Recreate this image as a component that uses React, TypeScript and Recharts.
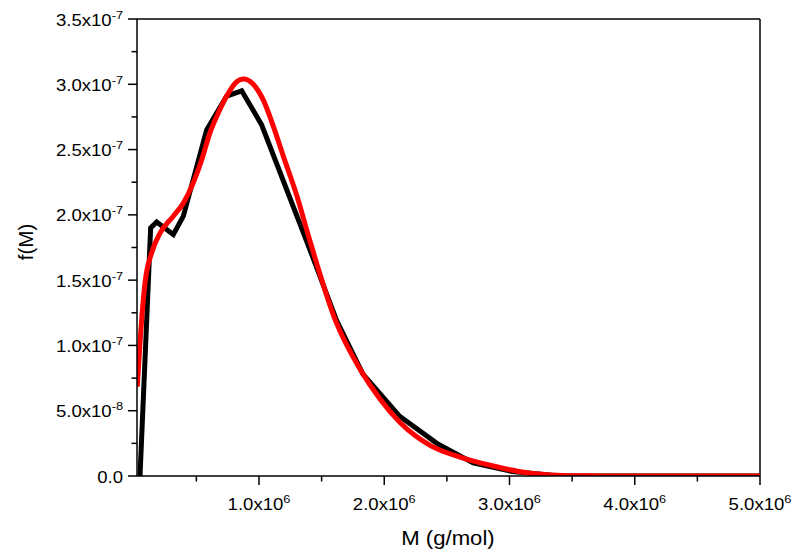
import React from "react";
import { LineChart, Line, XAxis, YAxis, ReferenceLine } from "recharts";

// M in units of 10^6 g/mol, f(M) in units of 10^-7
const blackM = [0.05, 0.135, 0.183, 0.316, 0.396, 0.582, 0.742, 0.862, 1.021, 1.4, 1.62, 1.83, 2.12, 2.42, 2.71, 3.02, 3.4, 5.0];
const blackF = [0, 1.9, 1.945, 1.85, 1.99, 2.65, 2.91, 2.95, 2.69, 1.75, 1.19, 0.78, 0.46, 0.25, 0.1, 0.035, 0, 0];

const redM = [0.028, 0.05, 0.09, 0.143, 0.21, 0.316, 0.396, 0.475, 0.542, 0.609, 0.675, 0.742, 0.822, 0.875, 0.954, 1.034, 1.114, 1.194, 1.301, 1.407, 1.607, 1.806, 1.966, 2.126, 2.366, 2.605, 2.845, 3.084, 3.324, 3.6, 4.0, 5.0];
const redF = [0.685, 1.02, 1.48, 1.71, 1.86, 1.99, 2.09, 2.245, 2.42, 2.63, 2.78, 2.91, 3.02, 3.04, 3.0, 2.88, 2.68, 2.45, 2.15, 1.8, 1.2, 0.82, 0.59, 0.41, 0.235, 0.145, 0.082, 0.033, 0.008, 0.001, 0, 0];

const xMajorTicks = [1, 2, 3, 4, 5];
const xMinorTicks = [0.5, 1.5, 2.5, 3.5, 4.5];
const xTickLabels = ["1.0", "2.0", "3.0", "4.0", "5.0"];
const xTickExp = "6";

const yMajorTicks = [0, 0.5, 1, 1.5, 2, 2.5, 3, 3.5];
const yMinorTicks = [0.25, 0.75, 1.25, 1.75, 2.25, 2.75, 3.25];
const yTickLabels = ["0.0", "5.0", "1.0", "1.5", "2.0", "2.5", "3.0", "3.5"];
const yTickExps = ["", "-8", "-7", "-7", "-7", "-7", "-7", "-7"];

const xTitle = "M (g/mol)";
const yTitle = "f(M)";

const blackData = blackM.map((m, i) => ({ x: m, y: blackF[i] }));
const redData = redM.map((m, i) => ({ x: m, y: redF[i] }));

const FONT = "'Liberation Sans', Arial, sans-serif";
const SX = 1.16;

const XTick = (props: any) => {
  const { x, y, payload } = props;
  const v = payload.value;
  const idx = xMajorTicks.findIndex((t) => Math.abs(t - v) < 1e-9);
  const major = idx >= 0;
  return (
    <g>
      <line x1={x} x2={x} y1={y} y2={y + (major ? 9 : 5.5)} stroke="#000" strokeWidth={1.5} />
      {major && (
        <g transform={`translate(${x},${y + 34}) scale(${SX},1)`}>
          <text textAnchor="middle" fontFamily={FONT} fontSize={16} fill="#000">
            <tspan>{xTickLabels[idx]}x10</tspan>
            <tspan dy={-7} fontSize={11}>{xTickExp}</tspan>
          </text>
        </g>
      )}
    </g>
  );
};

const YTick = (props: any) => {
  const { x, y, payload } = props;
  const v = payload.value;
  const idx = yMajorTicks.findIndex((t) => Math.abs(t - v) < 1e-9);
  const major = idx >= 0;
  return (
    <g>
      <line x1={x - (major ? 9 : 5.5)} x2={x} y1={y} y2={y} stroke="#000" strokeWidth={1.5} />
      {major && (
        <g transform={`translate(${x - 14},${y + 6.5}) scale(${SX},1)`}>
          <text textAnchor="end" fontFamily={FONT} fontSize={16} fill="#000">
            <tspan>{yTickLabels[idx]}{yTickExps[idx] ? "x10" : ""}</tspan>
            {yTickExps[idx] ? (
              <tspan dy={-7} fontSize={11}>{yTickExps[idx]}</tspan>
            ) : null}
          </text>
        </g>
      )}
    </g>
  );
};

export default function App() {
  const xTicks = [...xMinorTicks, ...xMajorTicks].sort((a, b) => a - b);
  const yTicks = [...yMajorTicks, ...yMinorTicks].sort((a, b) => a - b);
  return (
    <div style={{ position: "absolute", left: 0, top: 0, background: "#fff" }}>
      <LineChart width={799} height={557} margin={{ top: 19, right: 39, bottom: 21, left: 37 }}>
        <XAxis
          type="number"
          dataKey="x"
          domain={[0.026, 5]}
          allowDataOverflow
          ticks={xTicks}
          interval={0}
          tick={<XTick />}
          tickLine={false}
          tickSize={0}
          tickMargin={0}
          height={60}
          axisLine={{ stroke: "#000", strokeWidth: 1.5 }}
          label={{
            content: () => (
              <g transform={`translate(448,545) scale(1.08,1)`}>
                <text textAnchor="middle" fontFamily={FONT} fontSize={20.5} fill="#000">{xTitle}</text>
              </g>
            ),
          }}
        />
        <YAxis
          type="number"
          domain={[0, 3.5]}
          allowDataOverflow
          ticks={yTicks}
          interval={0}
          tick={<YTick />}
          tickLine={false}
          tickSize={0}
          tickMargin={0}
          width={100}
          axisLine={{ stroke: "#000", strokeWidth: 1.5 }}
          label={{
            content: () => (
              <text
                x={0}
                y={0}
                transform="translate(33,242) rotate(-90)"
                textAnchor="middle"
                fontFamily={FONT}
                fontSize={20.5}
                fill="#000"
              >
                {yTitle}
              </text>
            ),
          }}
        />
        <ReferenceLine y={3.5} stroke="#000" strokeWidth={1.5} />
        <ReferenceLine x={5} stroke="#000" strokeWidth={1.5} />
        <Line
          data={blackData}
          dataKey="y"
          type="linear"
          stroke="#000"
          strokeWidth={5}
          dot={false}
          activeDot={false}
          isAnimationActive={false}
        />
        <Line
          data={redData}
          dataKey="y"
          type="monotone"
          stroke="#ff0000"
          strokeWidth={5}
          dot={false}
          activeDot={false}
          isAnimationActive={false}
        />
      </LineChart>
    </div>
  );
}
